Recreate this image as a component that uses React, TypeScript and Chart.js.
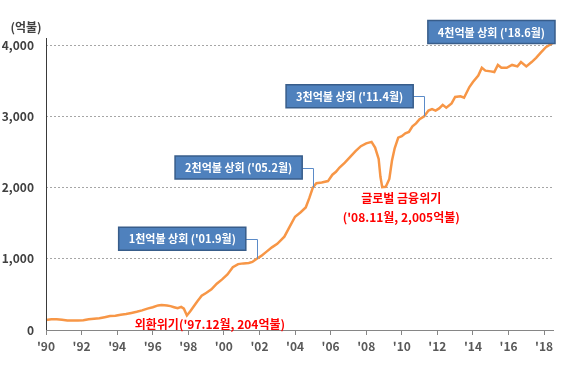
import React, { useEffect, useRef } from "react";
import { Chart, registerables } from "chart.js";

Chart.register(...registerables);

// Korea foreign exchange reserves (억불), by decimal year
const years = [
  1990.0, 1990.3, 1990.6, 1990.9, 1991.2, 1991.5, 1991.8, 1992.1, 1992.4, 1992.7,
  1993.0, 1993.3, 1993.6, 1993.9, 1994.2, 1994.5, 1994.8, 1995.1, 1995.4, 1995.7,
  1996.0, 1996.3, 1996.5, 1996.8, 1997.0, 1997.2, 1997.4, 1997.6, 1997.75, 1997.92,
  1998.1, 1998.3, 1998.5, 1998.75, 1999.0, 1999.3, 1999.6, 1999.9, 2000.2, 2000.5,
  2000.8, 2001.1, 2001.4, 2001.6, 2001.85, 2002.1, 2002.4, 2002.7, 2003.0, 2003.4,
  2003.7, 2004.0, 2004.3, 2004.6, 2004.8, 2005.0, 2005.2, 2005.5, 2005.85, 2006.1,
  2006.3, 2006.5, 2006.8, 2007.1, 2007.4, 2007.7, 2008.0, 2008.3, 2008.5, 2008.7,
  2008.8, 2008.9, 2009.1, 2009.3, 2009.45, 2009.6, 2009.8, 2010.0, 2010.2, 2010.4,
  2010.6, 2010.8, 2011.0, 2011.26, 2011.5, 2011.7, 2011.9, 2012.1, 2012.3, 2012.5,
  2012.8, 2013.0, 2013.3, 2013.5, 2013.8, 2014.0, 2014.3, 2014.5, 2014.7, 2015.0,
  2015.2, 2015.4, 2015.6, 2015.9, 2016.2, 2016.5, 2016.7, 2017.0, 2017.3, 2017.55,
  2017.8, 2018.1, 2018.3, 2018.5,
];
const reserves = [
  140, 150, 152, 145, 135, 132, 135, 138, 150, 158,
  165, 180, 195, 200, 215, 225, 240, 255, 275, 300,
  320, 345, 352, 345, 335, 320, 305, 325, 300, 204,
  260, 330, 400, 480, 520, 570, 650, 710, 780, 880,
  925, 935, 940, 955, 1000, 1040, 1100, 1160, 1210, 1310,
  1450, 1590, 1650, 1720, 1850, 2000, 2060, 2070, 2090, 2180,
  2220, 2280, 2350, 2430, 2510, 2580, 2620, 2640, 2560, 2400,
  2150, 2005, 2010, 2120, 2380, 2550, 2700, 2720, 2760, 2780,
  2860, 2900, 2960, 3000, 3080, 3100, 3080, 3110, 3160, 3120,
  3180, 3270, 3280, 3260, 3410, 3480, 3570, 3680, 3640, 3630,
  3620, 3720, 3680, 3680, 3720, 3700, 3760, 3700, 3760, 3820,
  3890, 3970, 4000, 4030,
];

const yTickValues = [0, 1000, 2000, 3000, 4000];
const xTickYears = [1990, 1992, 1994, 1996, 1998, 2000, 2002, 2004, 2006, 2008, 2010, 2012, 2014, 2016, 2018];
const unitLabel = "(억불)";

const milestoneLabels = [
  "1천억불 상회 ('01.9월)",
  "2천억불 상회 ('05.2월)",
  "3천억불 상회 ('11.4월)",
  "4천억불 상회 ('18.6월)",
];
const milestoneYears = [2001.85, 2005.02, 2011.26, 2018.5];
const milestoneValues = [1000, 2000, 3000, 4000];

const crisisLines = [
  ["외환위기('97.12월, 204억불)"],
  ["글로벌 금융위기", "('08.11월, 2,005억불)"],
];
const crisisYears = [1997.92, 2008.9];
const crisisValues = [204, 2005];

const FONT = "'Noto Sans CJK KR', 'Noto Sans', sans-serif";

const annotationPlugin = {
  id: "annotations",
  afterDraw(chart: any) {
    const { ctx, chartArea, scales } = chart;
    const xs = scales.x;
    const ys = scales.y;
    ctx.save();

    // y axis line (extends slightly above top)
    ctx.strokeStyle = "#3a3a3a";
    ctx.lineWidth = 1;
    ctx.beginPath();
    ctx.moveTo(chartArea.left + 0.5, chartArea.top - 7);
    ctx.lineTo(chartArea.left + 0.5, chartArea.bottom);
    ctx.stroke();

    // unit label
    ctx.fillStyle = "#404040";
    ctx.font = `bold 12px ${FONT}`;
    ctx.textAlign = "center";
    ctx.textBaseline = "middle";
    ctx.fillText(unitLabel, chartArea.left - 20, chartArea.top - 18);

    // milestone boxes
    ctx.font = `bold 11px ${FONT}`;
    milestoneLabels.forEach((label, i) => {
      const px = xs.getPixelForValue(milestoneYears[i]);
      const py = ys.getPixelForValue(milestoneValues[i]);
      const last = i === milestoneLabels.length - 1;
      const w = ctx.measureText(label).width + 20;
      const h = 23;
      const right = last ? px + 2 : px - 11;
      const cy = last ? py - 13 : py - 20;
      const left = right - w;
      const top = cy - h / 2;
      if (!last) {
        ctx.strokeStyle = "#5B8BC8";
        ctx.lineWidth = 1;
        ctx.beginPath();
        ctx.moveTo(right, Math.round(cy) + 0.5);
        ctx.lineTo(Math.round(px) + 0.5, Math.round(cy) + 0.5);
        ctx.lineTo(Math.round(px) + 0.5, py);
        ctx.stroke();
      }
      ctx.fillStyle = "#4F81BD";
      ctx.fillRect(left, top, w, h);
      ctx.strokeStyle = "#385D8A";
      ctx.lineWidth = 1.5;
      ctx.strokeRect(left, top, w, h);
      ctx.fillStyle = "#ffffff";
      ctx.textAlign = "center";
      ctx.textBaseline = "middle";
      ctx.fillText(label, left + w / 2, cy + 0.5);
    });

    // crisis labels
    ctx.fillStyle = "#FF0000";
    ctx.font = `bold 12px ${FONT}`;
    ctx.textAlign = "center";
    ctx.textBaseline = "middle";
    crisisLines.forEach((lines, i) => {
      const px = xs.getPixelForValue(crisisYears[i]);
      const py = ys.getPixelForValue(crisisValues[i]);
      if (i === 0) {
        ctx.fillText(lines[0], px + 23, py + 9);
      } else {
        lines.forEach((t, j) => ctx.fillText(t, px + 19, py + 11 + j * 19));
      }
    });
    ctx.restore();
  },
};

export default function App() {
  const ref = useRef<HTMLCanvasElement>(null);
  useEffect(() => {
    if (!ref.current) return;
    const chart = new Chart(ref.current, {
      type: "line",
      data: {
        datasets: [
          {
            data: years.map((x, i) => ({ x, y: reserves[i] })),
            borderColor: "#F79646",
            borderWidth: 2.5,
            pointRadius: 0,
            tension: 0,
            fill: false,
            clip: false as any,
          },
        ],
      },
      options: {
        animation: false,
        responsive: false,
        maintainAspectRatio: false,
        layout: { padding: { top: 45, right: 15, left: 0, bottom: 0 } },
        plugins: { legend: { display: false }, tooltip: { enabled: false } },
        scales: {
          x: {
            type: "linear",
            min: 1990,
            max: 2018.5,
            afterBuildTicks: (s: any) => {
              s.ticks = xTickYears.map((v) => ({ value: v }));
            },
            ticks: {
              callback: (v: any) => "'" + String(Number(v) % 100).padStart(2, "0"),
              font: { family: FONT, size: 12, weight: "bold" },
              color: "#595959",
              padding: 4,
              maxRotation: 0,
              autoSkip: false,
            },
            grid: { drawOnChartArea: false, drawTicks: true, tickLength: 5, color: "#868686" },
            border: { color: "#868686", width: 1 },
            afterFit: (s: any) => {
              s.height = 50;
            },
          },
          y: {
            min: 0,
            max: 4000,
            afterBuildTicks: (s: any) => {
              s.ticks = yTickValues.map((v) => ({ value: v }));
            },
            ticks: {
              callback: (v: any) => Number(v).toLocaleString("en-US"),
              font: { family: FONT, size: 12, weight: "bold" },
              color: "#404040",
              padding: 12,
            },
            grid: { color: "#A6A6A6", drawTicks: false, lineWidth: 1 },
            border: { display: false, dash: [2, 2] },
            afterFit: (s: any) => {
              s.width = 46;
            },
          },
        },
      },
      plugins: [annotationPlugin],
    } as any);
    return () => chart.destroy();
  }, []);
  return (
    <div style={{ position: "fixed", left: 0, top: 0, width: 568, height: 380, background: "#fff" }}>
      <canvas ref={ref} width={568} height={380} style={{ width: 568, height: 380 }} />
    </div>
  );
}
